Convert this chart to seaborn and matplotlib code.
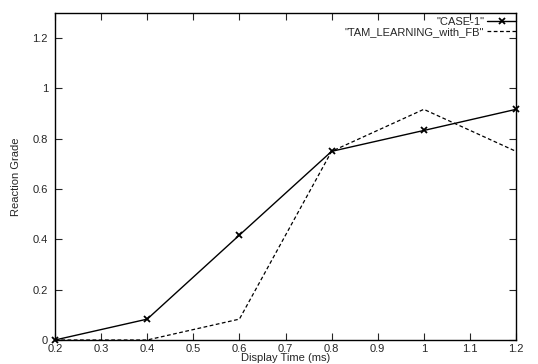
import matplotlib
matplotlib.use("Agg")
import matplotlib.pyplot as plt
import seaborn as sns
import pandas as pd

x_case = [0.2, 0.4, 0.6, 0.8, 1.0, 1.2]
y_case = [0.0, 0.083, 0.417, 0.75, 0.833, 0.917]
x_tam = [0.2, 0.4, 0.6, 0.8, 1.0, 1.2]
y_tam = [0.0, 0.0, 0.083, 0.75, 0.917, 0.75]
xticks = [0.2, 0.3, 0.4, 0.5, 0.6, 0.7, 0.8, 0.9, 1.0, 1.1, 1.2]
yticks = [0, 0.2, 0.4, 0.6, 0.8, 1.0, 1.2]

sns.set_style("ticks")
plt.rcParams['font.family'] = ['Liberation Sans', 'DejaVu Sans']

fig = plt.figure(figsize=(5.38, 3.64), dpi=100)
ax = fig.add_axes([55/538, 1-340/364, (516-55)/538, (340-13)/364])

df1 = pd.DataFrame({"x": x_case, "y": y_case})
df2 = pd.DataFrame({"x": x_tam, "y": y_tam})
sns.lineplot(data=df1, x="x", y="y", ax=ax, color="black", linewidth=1.0,
             marker="x", markersize=4, markeredgewidth=1.3, markeredgecolor="black",
             markerfacecolor="black", label='"CASE-1"', clip_on=False)
sns.lineplot(data=df2, x="x", y="y", ax=ax, color="black", linewidth=0.9,
             linestyle=(0, (3, 2)), label='"TAM_LEARNING_with_FB"')

ax.set_xlim(0.2, 1.2)
ax.set_ylim(0, 1.3)
ax.set_xticks(xticks)
ax.set_xticklabels(["0.2", "0.3", "0.4", "0.5", "0.6", "0.7", "0.8", "0.9", "1", "1.1", "1.2"])
ax.set_yticks(yticks)
ax.set_yticklabels(["0", "0.2", "0.4", "0.6", "0.8", "1", "1.2"])
ax.tick_params(direction="in", top=True, right=True, length=5, width=0.8, labelsize=8, pad=3)
ax.tick_params(axis="y", pad=5)
for s in ax.spines.values():
    s.set_linewidth(1.0)
    s.set_color("black")
ax.set_xlabel("Display Time (ms)", fontsize=8, labelpad=-1)
ax.set_ylabel("Reaction Grade", fontsize=8, labelpad=8)

leg = ax.legend(loc="upper right", bbox_to_anchor=(1.0, 0.988), frameon=False,
                markerfirst=False, fontsize=8, handlelength=2.6, borderaxespad=0.0,
                borderpad=0.0, labelspacing=0.0, handletextpad=0.25)
for t in leg.get_texts():
    t.set_ha("right")

fig.savefig("out.png", dpi=100)
